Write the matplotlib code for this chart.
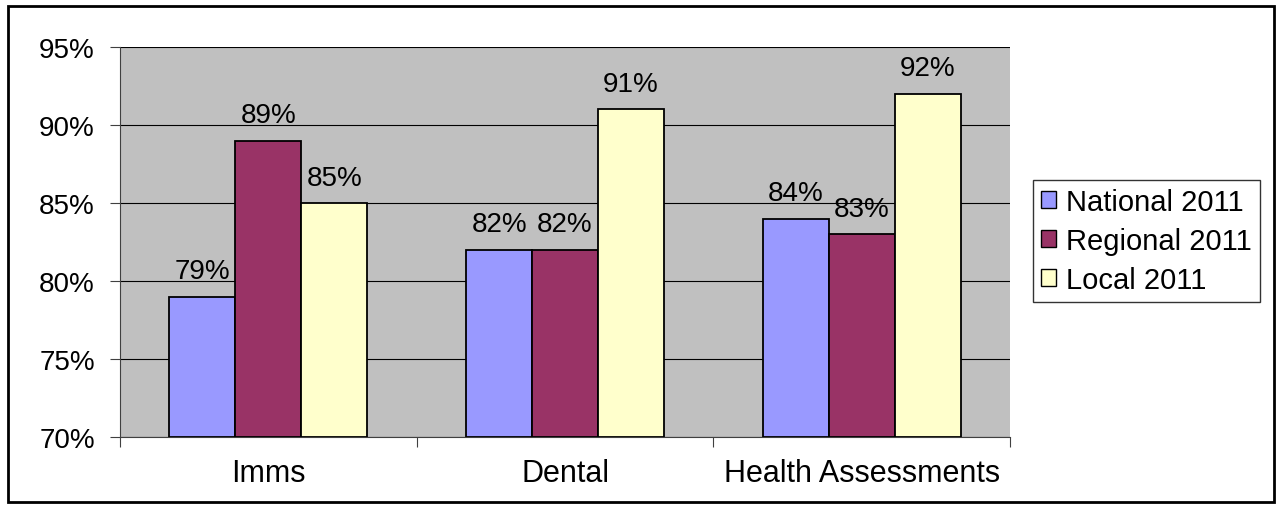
import matplotlib.pyplot as plt
import matplotlib.patches as mpatches
from matplotlib.ticker import FixedLocator, NullFormatter
import numpy as np

plt.rcParams['font.family'] = ['Liberation Sans', 'DejaVu Sans']

# Data
categories = ['Imms', 'Dental', 'Health Assessments']
series_names = ['National 2011', 'Regional 2011', 'Local 2011']
national = [79, 82, 84]
regional = [89, 82, 83]
local = [85, 91, 92]
yticks = [70, 75, 80, 85, 90, 95]

colors = ['#9999FF', '#993366', '#FFFFCC']
values = [national, regional, local]
fs = 20

fig = plt.figure(figsize=(12.82, 5.10), dpi=100)
fig.patch.set_facecolor('white')

# black frame around the whole chart
frame = mpatches.Rectangle((8 / 1282, 7 / 510), 1266 / 1282, 496 / 510,
                           transform=fig.transFigure, fill=False,
                           edgecolor='black', linewidth=2, zorder=0)
fig.patches.append(frame)

ax = fig.add_axes([120 / 1282, 1 - 438 / 510, 890 / 1282, 390 / 510])
ax.set_facecolor('#C0C0C0')

x = np.arange(len(categories)) + 0.5
w = 1 / 4.5
for i, (name, vals, c) in enumerate(zip(series_names, values, colors)):
    pos = x + (i - 1) * w
    ax.bar(pos, [v - 70 for v in vals], bottom=70, width=w, color=c,
           edgecolor='black', linewidth=1.3, label=name, zorder=3)
    for px, v in zip(pos, vals):
        ax.annotate('%d%%' % v, (px, v), xytext=(0, 9), textcoords='offset points',
                    ha='center', va='bottom', fontsize=fs)

ax.set_xlim(0, 3)
ax.set_ylim(70, 95)
ax.set_yticks(yticks)
ax.set_yticklabels(['%d%%' % t for t in yticks], fontsize=fs)
ax.yaxis.grid(True, color='black', linewidth=0.8, zorder=1)
ax.set_axisbelow(True)

# category labels between boundary ticks
ax.xaxis.set_major_locator(FixedLocator([0, 1, 2, 3]))
ax.xaxis.set_major_formatter(NullFormatter())
ax.xaxis.set_minor_locator(FixedLocator(x))
ax.set_xticklabels(categories, minor=True, fontsize=22)
ax.tick_params(axis='x', which='minor', length=0, pad=15)
ax.tick_params(axis='both', which='major', direction='out', length=7, color='#404040')
ax.tick_params(axis='y', pad=11)

for s in ['top', 'right']:
    ax.spines[s].set_visible(False)
ax.spines['left'].set_color('#404040')
ax.spines['bottom'].set_color('#404040')

handles = [mpatches.Patch(facecolor=c, edgecolor='black', label=n)
           for n, c in zip(series_names, colors)]
leg = fig.legend(handles=handles, loc='center left', bbox_to_anchor=(1033 / 1282, 1 - 242 / 510),
                 fontsize=21, frameon=True, fancybox=False, edgecolor='black',
                 handlelength=0.5, handleheight=0.5, handletextpad=0.35,
                 labelspacing=0.38, borderpad=0.28, borderaxespad=0)
leg.get_frame().set_linewidth(1)

fig.savefig('out.png', dpi=100)
